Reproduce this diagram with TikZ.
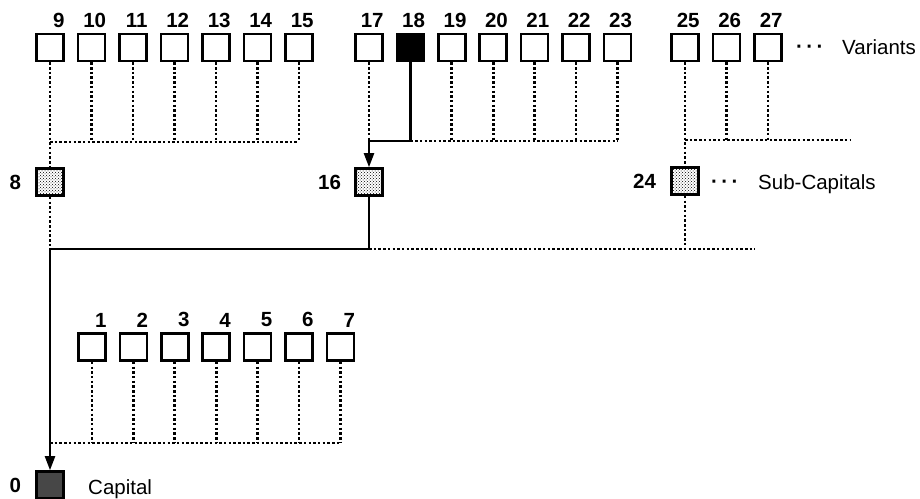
\documentclass[tikz,border=0pt]{standalone}
\usepackage{fontspec}
\setmainfont{Liberation Sans}
\usetikzlibrary{arrows.meta,positioning,patterns}

\begin{document}
\begin{tikzpicture}[x=1pt,y=-1pt,
    font=\fontsize{20.5}{24}\selectfont,
    cell/.style={draw,line width=2.6pt,minimum size=27pt,inner sep=0pt},
    varcell/.style={cell,fill=white},
    hotcell/.style={cell,fill=black},
    subcell/.style={cell,pattern=crosshatch dots},
    capcell/.style={cell,fill=black!72},
    num/.style={inner sep=0pt,font=\fontsize{20.5}{24}\selectfont\bfseries},
    txt/.style={inner sep=0pt,anchor=base west},
    wire/.style={line width=2.2pt},
    dotwire/.style={line width=2.8pt,dash pattern=on 2.5pt off 2.2pt},
    tip/.style={-{Triangle[length=14pt,width=10pt]}}]
  \useasboundingbox (0,0) rectangle (920,498);

  % variant rows
  \foreach \i in {9,...,15}
    \node[varcell] (v\i) at ({50+41.5*(\i-9)},47.5) {};
  \foreach \i in {17,...,23}
    \node[varcell] (v\i) at ({369+41.4*(\i-17)},47.5) {};
  \node[hotcell] (v18) at (v18) {};
  \foreach \i in {25,26,27}
    \node[varcell] (v\i) at ({685+41.5*(\i-25)},47.5) {};
  \foreach \i in {1,...,7}
    \node[varcell] (v\i) at ({92+41.4*(\i-1)},347) {};
  \foreach \i in {1,...,7,9,10,...,15,17,18,...,23,25,26,27}
    \node[num,above left=5pt and 0pt of v\i.north east] (l\i) {\i};

  % sub-capitals and capital
  \node[subcell] (s8) at (50,182) {};
  \node[subcell] (s16) at (369,182) {};
  \node[subcell] (s24) at (685,181) {};
  \node[capcell] (cap0) at (50,485) {};
  \node[num,left=14pt of s8] (l8) {8};
  \node[num,left=13pt of s16] (l16) {16};
  \node[num,left=14pt of s24] (l24) {24};
  \node[num,left=14pt of cap0] (l0) {0};

  \node[txt,font=\fontsize{20.5}{24}\selectfont\bfseries] (vdots) at (796,53) {·\,·\,·};
  \node[txt] (vtxt) at (842,54) {Variants};
  \node[txt,font=\fontsize{20.5}{24}\selectfont\bfseries] (sdots) at (711,188) {·\,·\,·};
  \node[txt] (stxt) at (758,189) {Sub-Capitals};
  \node[txt] (ctxt) at (88,494) {Capital};

  % buses
  \coordinate (bA) at (50,142);
  \coordinate (bB) at (369,141);
  \coordinate (bR) at (850,140);
  \coordinate (bC) at (755,249);
  \coordinate (bD) at (50,443);

  \draw[dotwire] (v9) -- (s8);
  \foreach \i in {10,...,15}
    \draw[dotwire] (v\i) -- (v\i |- bA);
  \draw[dotwire] (bA) -- (v15 |- bA);

  \draw[dotwire] (v17) -- (v17 |- bB);
  \foreach \i in {19,...,23}
    \draw[dotwire] (v\i) -- (v\i |- bB);
  \draw[dotwire] (v18 |- bB) -- (v23 |- bB);
  \draw[wire,tip] (v18) |- (bB) -- (s16);

  \draw[dotwire] (v25) -- (s24);
  \foreach \i in {26,27}
    \draw[dotwire] (v\i) -- (v\i |- bR);
  \draw[dotwire] (v25 |- bR) -- (bR);

  \draw[dotwire] (s8) -- (s8 |- bC);
  \draw[dotwire] (s16 |- bC) -- (bC);
  \draw[dotwire] (s24) -- (s24 |- bC);
  \draw[wire,tip] (s16) |- (s8 |- bC) -- (cap0);

  \foreach \i in {1,...,7}
    \draw[dotwire] (v\i) -- (v\i |- bD);
  \draw[dotwire] (bD) -- (v7 |- bD);
\end{tikzpicture}
\end{document}
